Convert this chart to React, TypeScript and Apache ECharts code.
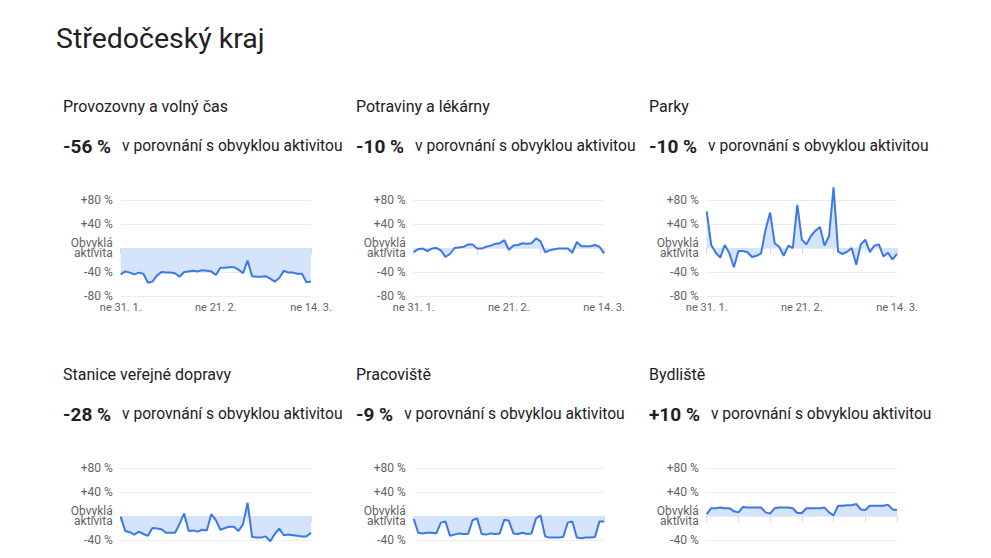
import { useEffect, useRef } from 'react'
import * as echarts from 'echarts'

const regionName = 'Středočeský kraj'
const placeNames = [
  'Provozovny a volný čas',
  'Potraviny a lékárny',
  'Parky',
  'Stanice veřejné dopravy',
  'Pracoviště',
  'Bydliště',
]
const changeLabels = ['-56 %', '-10 %', '-10 %', '-28 %', '-9 %', '+10 %']
const compareText = 'v porovnání s obvyklou aktivitou'

// days from Sunday 31. 1. to Sunday 14. 3.
const days = [
  '31. 1.',
  '1. 2.', '2. 2.', '3. 2.', '4. 2.', '5. 2.', '6. 2.', '7. 2.',
  '8. 2.', '9. 2.', '10. 2.', '11. 2.', '12. 2.', '13. 2.', '14. 2.',
  '15. 2.', '16. 2.', '17. 2.', '18. 2.', '19. 2.', '20. 2.', '21. 2.',
  '22. 2.', '23. 2.', '24. 2.', '25. 2.', '26. 2.', '27. 2.', '28. 2.',
  '1. 3.', '2. 3.', '3. 3.', '4. 3.', '5. 3.', '6. 3.', '7. 3.',
  '8. 3.', '9. 3.', '10. 3.', '11. 3.', '12. 3.', '13. 3.', '14. 3.',
]

const retail = [
  -44, -39, -41, -44, -41, -43, -58, -56, -46, -40, -41, -41, -42, -48, -40,
  -39, -38, -39, -37, -38, -39, -45, -33, -33, -32, -32, -36, -42, -21, -47,
  -48, -48, -47, -51, -56, -50, -38, -41, -41, -43, -43, -57, -56,
]
const grocery = [
  -7, -2, -1, -5, -1, 0, -4, -15, -10, 0, 1, 2, 6, 6, -1,
  -1, 2, 4, 7, 8, 13, -3, 4, 5, 8, 7, 8, 16, 11, -7,
  -4, -2, -1, -1, -1, -8, 10, 3, 3, 3, 5, 2, -9,
]
const parks = [
  61, 5, -8, -16, 5, -9, -32, -5, -5, -7, -15, -13, -9, 31, 59,
  8, 2, -13, 4, 0, 72, 14, 6, 20, 29, 35, 4, 20, 101, -6,
  -10, -6, 0, -28, 6, 14, -7, 4, 6, -14, -8, -19, -10,
]
const transit = [
  -1, -25, -27, -31, -26, -30, -33, -20, -21, -22, -28, -28, -28, -13, 4,
  -25, -24, -26, -23, -24, 3, -7, -23, -20, -18, -18, -25, -14, 22, -35,
  -36, -36, -34, -42, -30, -21, -32, -31, -32, -33, -34, -34, -28,
]
const workplaces = [
  -5, -28, -29, -28, -28, -29, -11, -9, -33, -31, -29, -30, -30, -7, -4,
  -30, -31, -29, -30, -29, -6, -8, -29, -30, -28, -30, -29, -4, 1, -34,
  -36, -36, -36, -35, -11, -9, -36, -37, -36, -36, -35, -9, -9,
]
const residential = [
  3, 13, 13, 14, 13, 13, 8, 6, 15, 14, 14, 14, 14, 6, 4,
  13, 14, 14, 14, 13, 5, 5, 13, 13, 13, 13, 14, 6, 1, 17,
  17, 18, 18, 20, 11, 10, 17, 17, 17, 17, 19, 11, 10,
]
const panelSeries = [retail, grocery, parks, transit, workplaces, residential]

const yMin = -80
const yMax = 80
const yStep = 40

const FONT = 'Roboto, Arial, sans-serif'
const TEXT_DARK = '#202124'
const TEXT_GREY = '#5f6368'
const LINE_BLUE = '#3b78e7'
const FILL_BLUE = '#d6e4fb'

const colLeft = [63, 356, 649]
const rowShift = [0, 268]

function yLabel(v: number) {
  if (v === 0) return 'Obvyklá\naktivita'
  return (v > 0 ? '+' : '') + v + ' %'
}

export default function App() {
  const chartRef = useRef<HTMLDivElement | null>(null)

  useEffect(() => {
    if (!chartRef.current) {
      return
    }

    const chart = echarts.init(chartRef.current, undefined, { renderer: 'svg' })

    const grids: any[] = []
    const xAxes: any[] = []
    const yAxes: any[] = []
    const series: any[] = []
    const graphics: any[] = [
      {
        type: 'text',
        x: 56,
        y: 38,
        style: {
          text: regionName,
          font: `28.5px ${FONT}`,
          fill: TEXT_DARK,
          verticalAlign: 'middle',
        },
      },
    ]

    panelSeries.forEach((values, i) => {
      const left = colLeft[i % 3]
      const row = Math.floor(i / 3)
      const dy = rowShift[row]
      // the lower row runs past the bottom edge: its -80 % line and dates fall outside
      const lowerRow = row === 1

      graphics.push({
        type: 'text',
        x: left,
        y: 106 + dy,
        style: {
          text: placeNames[i],
          font: `16px ${FONT}`,
          fill: TEXT_DARK,
          verticalAlign: 'middle',
        },
      })
      graphics.push({
        type: 'text',
        x: left,
        y: 146 + dy,
        style: {
          text: `{v|${changeLabels[i]}}{t|${compareText}}`,
          verticalAlign: 'middle',
          rich: {
            v: {
              fontSize: 19,
              fontWeight: 'bold',
              fontFamily: FONT,
              fill: TEXT_DARK,
              padding: [0, 11, 0, 0],
            },
            t: {
              fontSize: 15.6,
              fontFamily: FONT,
              fill: TEXT_DARK,
            },
          },
        },
      })

      grids.push({
        left: left + 57.7,
        top: 200 + dy,
        width: 190.3,
        height: 96,
        containLabel: false,
        outerBoundsMode: 'none',
      })
      xAxes.push({
        type: 'category',
        gridIndex: i,
        data: days,
        boundaryGap: false,
        axisLine: { show: false },
        axisTick: {
          show: true,
          interval: (idx: number) => idx % 7 === 0,
          length: 6,
          lineStyle: { color: '#dadce0' },
        },
        axisLabel: {
          show: !lowerRow,
          interval: (idx: number) => idx % 21 === 0,
          formatter: (v: string) => 'ne ' + v,
          color: TEXT_GREY,
          fontSize: 11,
          fontFamily: FONT,
          margin: 6,
        },
        splitLine: { show: false },
      })
      yAxes.push({
        type: 'value',
        gridIndex: i,
        min: yMin,
        max: yMax,
        interval: yStep,
        axisLine: { show: false },
        axisTick: { show: false },
        axisLabel: {
          formatter: (v: number) => (lowerRow && v === yMin ? '' : yLabel(v)),
          color: TEXT_GREY,
          fontSize: 12,
          fontFamily: FONT,
          lineHeight: 10,
          margin: 8,
        },
        splitLine: { lineStyle: { color: '#ececec', width: 1 } },
      })
      series.push({
        type: 'line',
        xAxisIndex: i,
        yAxisIndex: i,
        data: values,
        showSymbol: false,
        symbol: 'none',
        clip: false,
        lineStyle: { color: LINE_BLUE, width: 2 },
        areaStyle: { color: FILL_BLUE, opacity: 1 },
      })
    })

    chart.setOption({
      animation: false,
      backgroundColor: '#ffffff',
      textStyle: { fontFamily: FONT },
      grid: grids,
      xAxis: xAxes,
      yAxis: yAxes,
      series,
      graphic: graphics,
    })

    const resize = () => chart.resize()
    window.addEventListener('resize', resize)
    return () => {
      window.removeEventListener('resize', resize)
      chart.dispose()
    }
  }, [])

  return (
    <div
      ref={chartRef}
      style={{ position: 'fixed', left: 0, top: 0, width: 991, height: 558 }}
    />
  )
}
